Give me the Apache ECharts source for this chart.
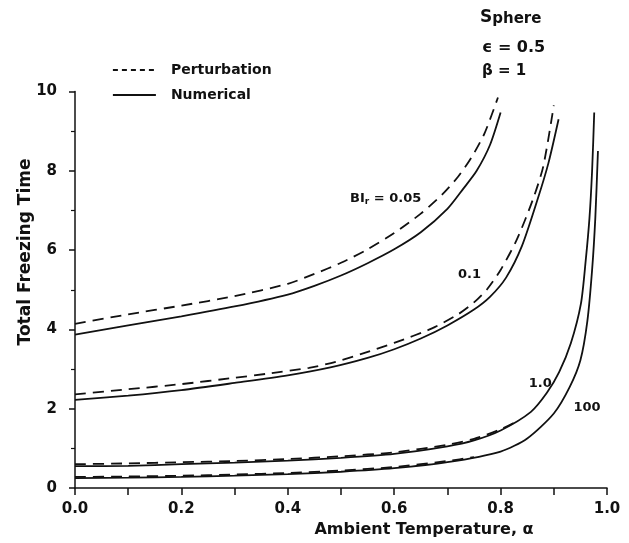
<!DOCTYPE html>
<html>
<head>
<meta charset="utf-8">
<script src="https://cdn.jsdelivr.net/npm/echarts@6/dist/echarts.min.js"></script>
<style>
  html, body { margin: 0; padding: 0; background: #fff; }
  #chart { width: 629px; height: 543px; }
</style>
</head>
<body>
<div id="chart"></div>
<script>
// Total freezing time of a sphere vs. ambient temperature (eps = 0.5, beta = 1)
// Each curve: [alpha, total freezing time]

// Bi_r = 0.05
const numBi005 = [[0,3.87],[0.1,4.1],[0.2,4.33],[0.3,4.58],[0.4,4.88],[0.45,5.1],[0.5,5.36],[0.55,5.67],[0.6,6.02],[0.65,6.45],[0.7,7.04],[0.73,7.55],[0.755,8.0],[0.78,8.65],[0.8,9.47]];
const perBi005 = [[0,4.14],[0.1,4.38],[0.2,4.6],[0.3,4.84],[0.4,5.15],[0.45,5.4],[0.5,5.68],[0.55,6.02],[0.6,6.43],[0.65,6.92],[0.69,7.4],[0.72,7.85],[0.745,8.33],[0.77,8.95],[0.795,9.85]];

// Bi_r = 0.1
const numBi01 = [[0,2.22],[0.1,2.33],[0.2,2.47],[0.3,2.65],[0.4,2.84],[0.48,3.04],[0.55,3.28],[0.6,3.5],[0.65,3.77],[0.7,4.1],[0.75,4.5],[0.78,4.82],[0.81,5.3],[0.84,6.1],[0.87,7.3],[0.89,8.2],[0.909,9.3]];
const perBi01 = [[0,2.36],[0.1,2.49],[0.2,2.62],[0.3,2.78],[0.36,2.88],[0.44,3.03],[0.49,3.18],[0.54,3.39],[0.6,3.66],[0.67,4.02],[0.72,4.38],[0.75,4.68],[0.775,5.02],[0.8,5.5],[0.83,6.25],[0.86,7.25],[0.88,8.1],[0.9,9.65]];

// Bi_r = 1.0
const numBi1 = [[0,0.55],[0.1,0.56],[0.2,0.6],[0.3,0.64],[0.4,0.69],[0.5,0.76],[0.6,0.86],[0.7,1.05],[0.75,1.2],[0.8,1.45],[0.857,1.92],[0.887,2.4],[0.91,2.92],[0.932,3.65],[0.951,4.65],[0.96,5.74],[0.967,6.8],[0.972,8.0],[0.976,9.47]];
const perBi1 = [[0,0.6],[0.1,0.62],[0.2,0.65],[0.3,0.68],[0.4,0.73],[0.5,0.8],[0.6,0.9],[0.7,1.09],[0.75,1.24],[0.8,1.48],[0.83,1.68]];

// Bi_r = 100
const numBi100 = [[0,0.25],[0.1,0.26],[0.2,0.28],[0.3,0.31],[0.4,0.35],[0.5,0.41],[0.6,0.5],[0.7,0.65],[0.8,0.92],[0.85,1.25],[0.9,1.88],[0.93,2.55],[0.95,3.22],[0.963,4.2],[0.972,5.5],[0.978,6.8],[0.983,8.5]];
const perBi100 = [[0,0.28],[0.1,0.29],[0.2,0.31],[0.3,0.34],[0.4,0.38],[0.5,0.44],[0.6,0.53],[0.7,0.68],[0.75,0.78]];

// Curve labels: text and the [alpha, time] point at the label's left edge
const curveLabels = [
  { text: '{b|BI}{s|r}{b| = 0.05}', at: [0.517, 7.31] },
  { text: '{b|0.1}', at: [0.72, 5.37] },
  { text: '{b|1.0}', at: [0.853, 2.62] },
  { text: '{b|100}', at: [0.937, 2.02] }
];

const xTickLabels = ['0.0', '0.2', '0.4', '0.6', '0.8', '1.0'];

const FONT = 'DejaVu Sans';
const INK = '#111';

function lineSeries(name, data, dashed) {
  return {
    type: 'line',
    name: name,
    data: data,
    smooth: 0.25,
    symbol: 'none',
    silent: true,
    itemStyle: { color: INK },
    lineStyle: { color: INK, width: 1.8, type: dashed ? [11, 7] : 'solid' },
    z: dashed ? 3 : 2
  };
}

const chart = echarts.init(document.getElementById('chart'));

chart.setOption({
  animation: false,
  backgroundColor: '#fff',
  grid: { left: 75, right: 22, top: 91.5, bottom: 55, containLabel: false },
  legend: {
    left: 107,
    top: 58,
    orient: 'vertical',
    itemWidth: 43,
    itemHeight: 14,
    itemGap: 11,
    selectedMode: false,
    itemStyle: { opacity: 0 },
    data: [
      { name: 'Perturbation', itemStyle: { opacity: 0 }, lineStyle: { type: [5, 4], width: 1.8, color: INK } },
      { name: 'Numerical', itemStyle: { opacity: 0 }, lineStyle: { type: 'solid', width: 1.8, color: INK } }
    ],
    textStyle: { fontFamily: FONT, fontWeight: 'bold', fontSize: 14, color: INK, padding: [0, 0, 0, 10] }
  },
  xAxis: {
    type: 'value',
    min: 0,
    max: 1,
    interval: 0.1,
    splitLine: { show: false },
    axisLine: { lineStyle: { color: INK, width: 1.5 } },
    axisTick: { show: true, length: 7, inside: false, lineStyle: { color: INK, width: 1.5 } },
    axisLabel: {
      margin: 14,
      color: INK,
      fontFamily: FONT,
      fontWeight: 'bold',
      fontSize: 15,
      formatter: function (v) {
        const i = Math.round(v * 10);
        return i % 2 === 0 ? xTickLabels[i / 2] : '';
      }
    }
  },
  yAxis: {
    type: 'value',
    min: 0,
    max: 10,
    interval: 2,
    splitLine: { show: false },
    axisLine: { show: true, lineStyle: { color: INK, width: 1.5 } },
    axisTick: { show: true, length: 6, inside: false, lineStyle: { color: INK, width: 1.5 } },
    minorTick: { show: true, splitNumber: 2, length: 4, lineStyle: { color: INK, width: 1.2 } },
    axisLabel: { margin: 18, color: INK, fontFamily: FONT, fontWeight: 'bold', fontSize: 15 }
  },
  series: [
    lineSeries('Numerical', numBi005, false),
    lineSeries('Perturbation', perBi005, true),
    lineSeries('Numerical', numBi01, false),
    lineSeries('Perturbation', perBi01, true),
    lineSeries('Numerical', numBi1, false),
    lineSeries('Perturbation', perBi1, true),
    lineSeries('Numerical', numBi100, false),
    lineSeries('Perturbation', perBi100, true)
  ]
});

const textBase = { fontFamily: FONT, fontWeight: 'bold', fill: INK };

const graphics = [
  // axis titles
  {
    type: 'text', x: 26, y: 252, rotation: Math.PI / 2,
    style: Object.assign({ text: 'Total Freezing Time', fontSize: 17, textAlign: 'center', textVerticalAlign: 'middle' }, textBase)
  },
  {
    type: 'text', x: 424, y: 530,
    style: Object.assign({ text: 'Ambient Temperature, α', fontSize: 16, textAlign: 'center', textVerticalAlign: 'middle' }, textBase)
  },
  // case parameters
  {
    type: 'text', x: 480, y: 18,
    style: Object.assign({
      text: '{S|S}{p|phere}', textAlign: 'left', textVerticalAlign: 'middle',
      rich: {
        S: { fontFamily: FONT, fontWeight: 'bold', fontSize: 17, verticalAlign: 'bottom' },
        p: { fontFamily: FONT, fontWeight: 'bold', fontSize: 15, verticalAlign: 'bottom' }
      }
    }, textBase)
  },
  {
    type: 'text', x: 482, y: 48,
    style: Object.assign({ text: 'ϵ = 0.5', fontSize: 16, textAlign: 'left', textVerticalAlign: 'middle' }, textBase)
  },
  {
    type: 'text', x: 482, y: 71,
    style: Object.assign({ text: 'β = 1', fontSize: 15, textAlign: 'left', textVerticalAlign: 'middle' }, textBase)
  }
];

curveLabels.forEach(function (lab) {
  const p = chart.convertToPixel({ gridIndex: 0 }, lab.at);
  graphics.push({
    type: 'text', x: p[0], y: p[1],
    style: Object.assign({
      text: lab.text, textAlign: 'left', textVerticalAlign: 'middle',
      rich: {
        b: { fontFamily: FONT, fontWeight: 'bold', fontSize: 13, verticalAlign: 'middle', lineHeight: 16 },
        s: { fontFamily: FONT, fontWeight: 'bold', fontSize: 9, verticalAlign: 'bottom', lineHeight: 16, padding: [6, 0, 0, 0] }
      }
    }, textBase)
  });
});

chart.setOption({ graphic: graphics });
</script>
</body>
</html>
